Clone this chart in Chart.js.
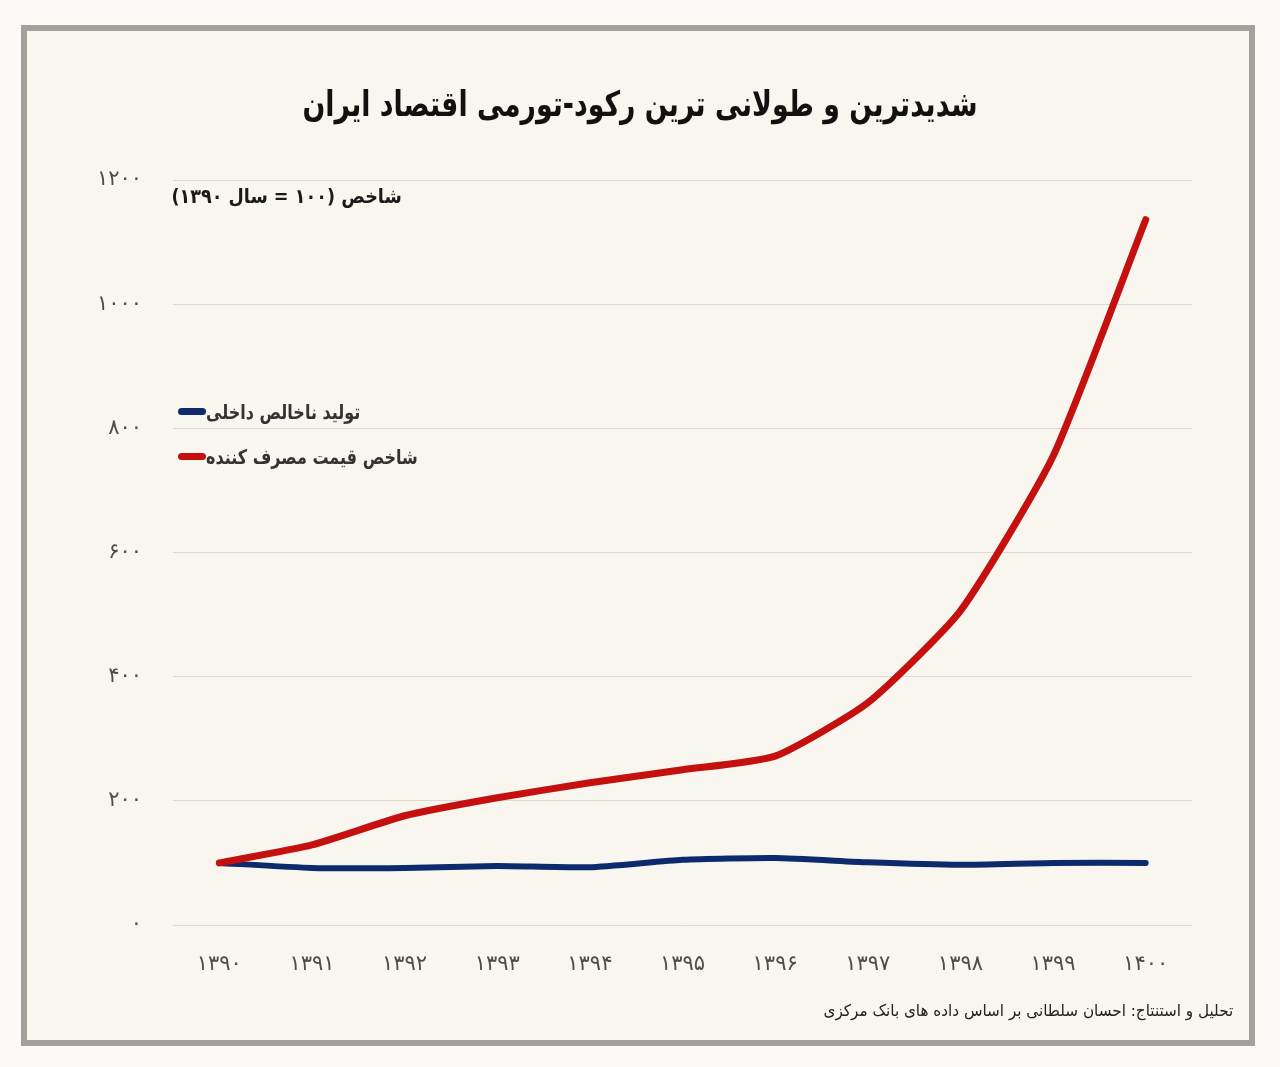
<!DOCTYPE html>
<html lang="fa">
<head>
<meta charset="utf-8">
<script src="https://cdn.jsdelivr.net/npm/chart.js@4.4.1/dist/chart.umd.min.js"></script>
<style>
  html, body { margin: 0; padding: 0; }
  body { width: 1280px; height: 1067px; background: #fcfaf6; position: relative; overflow: hidden;
         font-family: "DejaVu Sans", "Noto Sans", sans-serif; }
  .frame { position: absolute; left: 21px; top: 25px; width: 1222px; height: 1009px;
           border: 6px solid #a3a19e; background: #f9f6f0; }
  #wrap { position: absolute; left: 0; top: 0; width: 1280px; height: 1067px; }
  .title { position: absolute; left: 0; width: 1280px; top: 84px; text-align: center;
           font-size: 35px; font-weight: bold; color: #111; transform: scaleX(0.765); }
  .sub { position: absolute; right: 878px; top: 184px; font-size: 20px; font-weight: bold; color: #1a1a1a;
         transform: scaleX(0.88); transform-origin: right center; }
  #legend { position: absolute; left: 178px; top: 389px; }
  .lg-row { display: flex; align-items: center; height: 45px; }
  .lg-line { width: 28px; height: 7px; border-radius: 4px; flex: none; }
  .lg-text { font-size: 20px; font-weight: bold; color: #333; display: inline-block;
             transform: scaleX(0.8); transform-origin: left center; white-space: nowrap; }
  .foot { position: absolute; right: 47px; top: 1001px; font-size: 16px; color: #222;
          transform: scaleX(0.95); transform-origin: right center; }
</style>
</head>
<body>
<div class="frame"></div>
<div id="wrap"><canvas id="chart"></canvas></div>
<div class="title" dir="rtl">شدیدترین و طولانی ترین رکود-تورمی اقتصاد ایران</div>
<div class="sub" dir="rtl">شاخص (۱۰۰ = سال ۱۳۹۰)</div>
<div id="legend"></div>
<div class="foot" dir="rtl">تحلیل و استنتاج: احسان سلطانی بر اساس داده های بانک مرکزی</div>
<script>
// سال‌ها و شاخص‌ها (۱۳۹۰ = ۱۰۰)
const years = [1390, 1391, 1392, 1393, 1394, 1395, 1396, 1397, 1398, 1399, 1400];
const gdp = [100, 92, 92, 95, 93, 105, 108, 101, 97, 100, 100];
const cpi = [100, 129, 176, 205, 229, 250, 272, 358, 506, 755, 1136];
const yTicks = [0, 200, 400, 600, 800, 1000, 1200];

const seriesNames = ["تولید ناخالص داخلی", "شاخص قیمت مصرف کننده"];
const seriesColors = ["#0d2a6c", "#c4100f"];

const faDigits = "۰۱۲۳۴۵۶۷۸۹";
const toFa = (v) => String(v).replace(/\d/g, (d) => faDigits[d]);

document.getElementById("legend").innerHTML = seriesNames.map((n, i) => `
  <div class="lg-row">
    <span class="lg-line" style="background:${seriesColors[i]}"></span>
    <span class="lg-text" dir="rtl">${n}</span>
  </div>`).join("");

const tickFont = { family: "DejaVu Sans", size: 21 };

new Chart(document.getElementById("chart"), {
  type: "line",
  data: {
    labels: years,
    datasets: [
      { label: seriesNames[1], data: cpi, borderColor: seriesColors[1], borderWidth: 7,
        pointRadius: 0, tension: 0.18, borderCapStyle: "round", borderJoinStyle: "round" },
      { label: seriesNames[0], data: gdp, borderColor: seriesColors[0], borderWidth: 6,
        pointRadius: 0, tension: 0.18, borderCapStyle: "round", borderJoinStyle: "round" },
    ],
  },
  options: {
    responsive: true,
    maintainAspectRatio: false,
    animation: false,
    layout: { padding: { top: 180, right: 88, bottom: 82, left: 0 } },
    plugins: { legend: { display: false }, tooltip: { enabled: false } },
    scales: {
      x: {
        offset: true,
        grid: { display: false },
        border: { display: false },
        ticks: { color: "#4f4d4a", font: tickFont, padding: 19, maxRotation: 0,
                 callback: function (v) { return toFa(this.getLabelForValue(v)); } },
        afterFit: (s) => { s.height = 60; },
      },
      y: {
        min: 0, max: 1200,
        afterBuildTicks: (s) => { s.ticks = yTicks.map((v) => ({ value: v })); },
        grid: { color: "#dcd9d3", lineWidth: 1, drawTicks: false },
        border: { display: false },
        ticks: { color: "#4f4d4a", font: tickFont, padding: 31, callback: (v) => toFa(v) },
        afterFit: (s) => { s.width = 173; },
      },
    },
  },
});
</script>
</body>
</html>
